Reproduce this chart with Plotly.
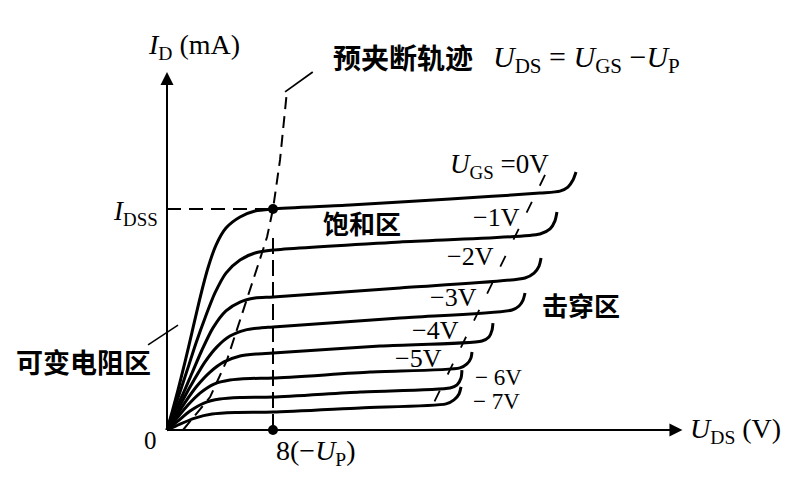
import plotly.graph_objects as go

# ---------------- data (UDS in V, ID in mA; IDSS taken as 10 mA) ----------------
ugs_labels = ["0V", "−1V", "−2V", "−3V", "−4V", "−5V", "− 6V", "− 7V"]

uds_0 = [0, 0.38, 0.83, 1.36, 1.89, 2.49, 3.09, 3.70, 4.45, 5.51, 6.64, 8.0, 13.81, 21.36, 28.15, 29.66, 30.26, 30.64, 30.87]
id_0 = [0, 0.81, 1.81, 3.08, 4.43, 5.97, 7.33, 8.37, 9.14, 9.64, 9.91, 10.0, 10.18, 10.45, 10.72, 10.81, 10.99, 11.31, 11.67]

uds_1 = [0, 0.45, 0.98, 1.58, 2.19, 2.87, 3.62, 4.45, 5.51, 6.64, 8.0, 17.58, 28.15, 28.91, 29.28, 29.43]
id_1 = [0, 0.81, 1.72, 2.81, 3.94, 5.07, 6.20, 7.10, 7.69, 8.01, 8.14, 8.51, 8.87, 9.10, 9.46, 9.86]

uds_2 = [0, 0.53, 1.21, 1.89, 2.64, 3.47, 4.45, 5.51, 6.64, 8.0, 17.58, 27.02, 27.70, 28.08, 28.23]
id_2 = [0, 0.77, 1.63, 2.58, 3.62, 4.62, 5.39, 5.79, 5.97, 6.02, 6.43, 6.88, 7.10, 7.42, 7.78]

uds_3 = [0, 0.60, 1.28, 2.04, 2.87, 3.77, 4.75, 5.89, 7.02, 8.0, 17.58, 26.04, 26.57, 26.87, 27.02]
id_3 = [0, 0.68, 1.45, 2.26, 3.08, 3.76, 4.25, 4.52, 4.62, 4.66, 5.07, 5.43, 5.61, 5.88, 6.20]

uds_4 = [0, 0.68, 1.43, 2.26, 3.25, 4.30, 5.51, 6.72, 8.0, 16.08, 23.77, 24.30, 24.53, 24.60]
id_4 = [0, 0.63, 1.31, 1.99, 2.62, 3.08, 3.35, 3.44, 3.48, 3.80, 4.03, 4.21, 4.52, 4.84]

uds_5 = [0, 0.75, 1.58, 2.49, 3.55, 4.75, 6.26, 8.0, 15.32, 22.11, 22.64, 22.94, 23.02]
id_5 = [0, 0.54, 1.13, 1.67, 2.08, 2.26, 2.33, 2.35, 2.62, 2.81, 2.99, 3.26, 3.53]

uds_6 = [0, 0.83, 1.74, 2.79, 3.99, 5.51, 8.0, 14.57, 21.36, 21.89, 22.19, 22.26]
id_6 = [0, 0.41, 0.86, 1.22, 1.40, 1.47, 1.49, 1.72, 1.90, 2.04, 2.35, 2.71]

uds_7 = [0, 0.98, 2.11, 3.40, 5.13, 8.0, 14.57, 21.06, 21.66, 22.04, 22.19]
id_7 = [0, 0.27, 0.54, 0.72, 0.79, 0.81, 1.00, 1.18, 1.36, 1.63, 1.95]

# pre-pinch-off locus  UDS = UGS - UP
locus_uds = [1.21, 3.25, 4.53, 5.51, 7.02, 7.55, 8.0, 8.53, 9.06]
locus_id = [0, 1.49, 3.17, 4.93, 7.74, 8.73, 10.0, 12.22, 15.38]

# breakdown locus
brk_uds = [28.53, 19.62]
brk_id = [11.54, 0.59]

up_abs = 8.0      # -UP
idss = 10.0       # IDSS
x_axis_end = 38.9
y_axis_end = 16.2

curves = [(uds_0, id_0), (uds_1, id_1), (uds_2, id_2), (uds_3, id_3),
          (uds_4, id_4), (uds_5, id_5), (uds_6, id_6), (uds_7, id_7)]

# page body has an 8px margin -> figure is 784x483 placed at (8, 8)
OFF = 8
W, H = 800 - 2 * OFF, 499 - 2 * OFF
X0, XPX = 167 - OFF, 13.25   # layout mapping
Y0, YPX = 430 - OFF, 22.1
xr = [-X0 / XPX, (W - X0) / XPX]
yr = [-(H - Y0) / YPX, Y0 / YPX]

fig = go.Figure()

for ux, iy in curves:
    fig.add_trace(go.Scatter(x=ux, y=iy, mode="lines",
                             line=dict(color="black", width=3, shape="spline", smoothing=0.7),
                             hoverinfo="skip", showlegend=False))

# loci
fig.add_trace(go.Scatter(x=locus_uds, y=locus_id, mode="lines",
                         line=dict(color="black", width=2, dash="12px,7px"),
                         hoverinfo="skip", showlegend=False))
fig.add_trace(go.Scatter(x=brk_uds, y=brk_id, mode="lines",
                         line=dict(color="black", width=1.8, dash="12px,18px"),
                         hoverinfo="skip", showlegend=False))
# IDSS guide and -UP guide
fig.add_trace(go.Scatter(x=[0, up_abs], y=[idss, idss], mode="lines",
                         line=dict(color="black", width=2, dash="14px,8px"),
                         hoverinfo="skip", showlegend=False))
fig.add_trace(go.Scatter(x=[up_abs, up_abs], y=[0, idss * 0.87], mode="lines",
                         line=dict(color="black", width=2, dash="16px,6px"),
                         hoverinfo="skip", showlegend=False))
# dots
fig.add_trace(go.Scatter(x=[up_abs, up_abs], y=[idss, 0], mode="markers",
                         marker=dict(color="black", size=10),
                         hoverinfo="skip", showlegend=False))

# axes with arrows
fig.add_annotation(x=x_axis_end, y=0, ax=0, ay=0, xref="x", yref="y", axref="x", ayref="y",
                   showarrow=True, arrowhead=2, arrowsize=1.3, arrowwidth=2, arrowcolor="black", text="")
fig.add_annotation(x=0, y=y_axis_end, ax=0, ay=0, xref="x", yref="y", axref="x", ayref="y",
                   showarrow=True, arrowhead=2, arrowsize=1.3, arrowwidth=2, arrowcolor="black", text="")

# leader lines
fig.add_shape(type="line", x0=locus_uds[-1] - 0.15, y0=15.3, x1=11.0, y1=16.2, xref="x", yref="y",
              line=dict(color="black", width=1.8))
fig.add_shape(type="line", x0=-1.43, y0=3.85, x1=0.83, y1=4.75, xref="x", yref="y",
              line=dict(color="black", width=1.5))

SERIF = "Liberation Serif"
CJK = "Noto Sans CJK SC"


def lab(text, px, py, size, family=SERIF, xanchor="center"):
    fig.add_annotation(x=(px - OFF) / W, y=1 - (py - OFF) / H, xref="paper", yref="paper", text=text,
                       showarrow=False, xanchor=xanchor, yanchor="middle",
                       font=dict(family=family, size=size, color="black"))


lab("<i>I</i><sub>D</sub> (mA)", 146, 46, 28, xanchor="left")
lab("<b>预夹断轨迹</b>", 331, 57, 28, CJK, xanchor="left")
lab("<i>U</i><sub>DS</sub> = <i>U</i><sub>GS</sub> −<i>U</i><sub>P</sub>", 491, 59, 30, xanchor="left")
lab("<i>I</i><sub>DSS</sub>", 160, 213, 27, xanchor="right")
lab("<i>U</i><sub>GS</sub> =" + ugs_labels[0], 448, 166, 27, xanchor="left")
label_pos = [(471, 217), (445, 256), (428, 297), (410, 330), (393, 358), (473, 377), (471, 401)]
label_size = [26, 26, 26, 26, 26, 23, 23]
for t, (px, py), sz in zip(ugs_labels[1:], label_pos, label_size):
    lab(t, px, py, sz, xanchor="left")
lab("<b>饱和区</b>", 362, 222, 26, CJK)
lab("<b>击穿区</b>", 581, 304, 26, CJK)
lab("<b>可变电阻区</b>", 83, 361, 27, CJK)
lab("0", 150, 440, 25)
lab("8(−<i>U</i><sub>P</sub>)", 316, 452, 28)
lab("<i>U</i><sub>DS</sub> (V)", 688, 430, 28, xanchor="left")

fig.update_layout(width=W, height=H, margin=dict(l=0, r=0, t=0, b=0),
                  paper_bgcolor="white", plot_bgcolor="white",
                  xaxis=dict(range=xr, visible=False, fixedrange=True),
                  yaxis=dict(range=yr, visible=False, fixedrange=True),
                  showlegend=False)

fig.write_html("out.html", config={"displayModeBar": False})
